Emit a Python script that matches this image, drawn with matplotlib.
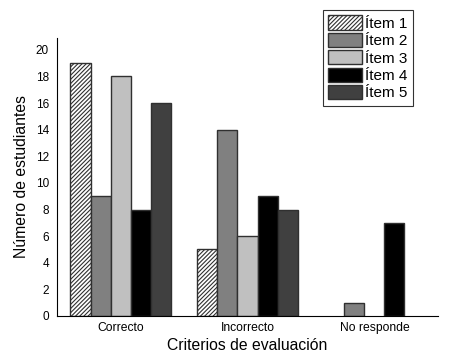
import matplotlib
matplotlib.use("Agg")
import matplotlib.pyplot as plt
import numpy as np

plt.rcParams['font.family'] = ['Liberation Sans', 'DejaVu Sans']
plt.rcParams['hatch.linewidth'] = 0.8

categories = ["Correcto", "Incorrecto", "No responde"]
series = ["Ítem 1", "Ítem 2", "Ítem 3", "Ítem 4", "Ítem 5"]
item1 = [19, 5, 0]
item2 = [9, 14, 1]
item3 = [18, 6, 0]
item4 = [8, 9, 7]
item5 = [16, 8, 0]
values = [item1, item2, item3, item4, item5]
colors = ["white", "#808080", "#c0c0c0", "#000000", "#404040"]
hatches = ["////////", None, None, None, None]

fig = plt.figure(figsize=(4.5, 3.64), dpi=100)
ax = fig.add_axes([0.127, 0.132, 0.846, 0.764])

x = np.arange(len(categories))
w = 0.158
handles = []
for i, (vals, c, h, lab) in enumerate(zip(values, colors, hatches, series)):
    b = ax.bar(x + (i - 2) * w, vals, width=w, color=c, edgecolor="#303030",
               linewidth=1.0, hatch=h, label=lab)
    for p, v in zip(b.patches, vals):
        if v == 0:
            p.set_visible(False)
    handles.append(b)

ax.set_xlim(-0.5, 2.5)
ax.set_ylim(0, 20.9)
ax.set_yticks(range(0, 21, 2))
ax.set_xticks(x)
ax.set_xticklabels(categories, fontsize=8.7)
ax.tick_params(axis='y', labelsize=8.5, length=0, pad=6)
ax.tick_params(axis='x', length=0, pad=4)
for s in ["top", "right"]:
    ax.spines[s].set_visible(False)
for s in ["left", "bottom"]:
    ax.spines[s].set_linewidth(0.8)
ax.set_ylabel("Número de estudiantes", fontsize=11.3, labelpad=5)
ax.set_xlabel("Criterios de evaluación", fontsize=11.3, labelpad=3)

leg = fig.legend(handles=handles, labels=series, loc="upper left",
                 bbox_to_anchor=(323/450, 1 - 10/364), fontsize=11,
                 frameon=True, fancybox=False, edgecolor="black",
                 handlelength=2.2, handleheight=1.05, labelspacing=0.14,
                 handletextpad=0.2, borderpad=0.35, borderaxespad=0)
leg.get_frame().set_linewidth(0.8)

fig.savefig("out.png", dpi=100)
